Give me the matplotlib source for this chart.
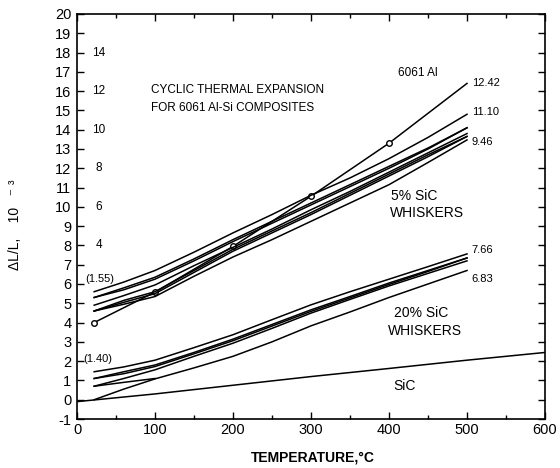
import matplotlib
matplotlib.use("Agg")
import matplotlib.pyplot as plt
import numpy as np

plt.rcParams["font.family"] = ["Liberation Sans", "DejaVu Sans"]
plt.rcParams["axes.unicode_minus"] = False

# 데이터
temp = [22, 60, 100, 150, 200, 250, 300, 350, 400, 450, 500]

# 6061 Al
al_temp = [22, 100, 200, 300, 400, 500]
al_dl = [4.0, 5.58, 7.95, 10.55, 13.3, 16.4]
al_marker_temp = [22, 100, 200, 300, 400]
al_marker_dl = [4.0, 5.58, 7.95, 10.55, 13.3]

# 5% SiC whiskers
sic5_a = [5.6, 6.1, 6.7, 7.65, 8.65, 9.6, 10.6, 11.5, 12.5, 13.6, 14.8]
sic5_b = [5.3, 5.7, 6.25, 7.2, 8.2, 9.15, 10.1, 11.05, 12.0, 13.0, 14.1]
sic5_b2 = [5.3, 5.8, 6.35, 7.3, 8.3, 9.25, 10.2, 11.15, 12.1, 13.05, 14.1]
sic5_c = [4.9, 5.4, 5.95, 6.95, 7.9, 8.85, 9.85, 10.8, 11.8, 12.8, 13.8]
sic5_d = [4.6, 5.05, 5.5, 6.6, 7.7, 8.65, 9.6, 10.6, 11.6, 12.6, 13.65]
sic5_d2 = [4.6, 5.15, 5.6, 6.7, 7.8, 8.75, 9.7, 10.7, 11.7, 12.7, 13.65]
sic5_e = [4.6, 4.95, 5.35, 6.4, 7.4, 8.3, 9.25, 10.2, 11.15, 12.3, 13.47]

# 20% SiC whiskers
sic20_f = [1.45, 1.7, 2.05, 2.7, 3.37, 4.15, 4.92, 5.6, 6.25, 6.9, 7.56]
sic20_g = [1.1, 1.45, 1.8, 2.45, 3.14, 3.9, 4.66, 5.35, 6.05, 6.7, 7.35]
sic20_g2 = [1.1, 1.35, 1.72, 2.38, 3.06, 3.82, 4.58, 5.28, 5.98, 6.65, 7.35]
sic20_h = [0.7, 1.1, 1.55, 2.25, 2.93, 3.7, 4.49, 5.2, 5.9, 6.55, 7.2]
sic20_i = [0.0, 0.55, 1.08, 1.65, 2.25, 3.0, 3.83, 4.55, 5.3, 6.0, 6.7]
sic20_j_temp = [22, 60, 100]
sic20_j = [0.7, 0.9, 1.1]

# SiC
sic_temp = [0, 100, 200, 300, 400, 500, 600]
sic_dl = [-0.1, 0.3, 0.75, 1.2, 1.62, 2.05, 2.45]

# 오른쪽 끝 라벨
end_labels = ["12.42", "11.10", "9.46", "7.66", "6.83"]
end_label_y = [16.41, 14.94, 13.38, 7.74, 6.25]

# 왼쪽 안쪽 보조 눈금 라벨
inner_labels = ["14", "12", "10", "8", "6", "4"]
inner_label_y = [18, 16, 14, 12, 10, 8]

fig = plt.figure(figsize=(5.6, 4.68), dpi=100)
ax = fig.add_axes([0.1375, 0.1047, 0.8357, 0.8654])

lw = 1.1
ax.plot(al_temp, al_dl, color="k", lw=lw)
ax.plot(al_marker_temp, al_marker_dl, "o", mfc="white", mec="k", ms=4, mew=1.0)

for ys in [sic5_a, sic5_b, sic5_b2, sic5_c, sic5_d, sic5_d2, sic5_e]:
    ax.plot(temp, ys, color="k", lw=lw)

for ys in [sic20_f, sic20_g, sic20_g2, sic20_h, sic20_i]:
    ax.plot(temp, ys, color="k", lw=lw)
ax.plot(sic20_j_temp, sic20_j, color="k", lw=lw)

ax.plot(sic_temp, sic_dl, color="k", lw=lw)

ax.set_xlim(0, 600)
ax.set_ylim(-1, 20)
ax.set_xticks(np.arange(0, 601, 100))
ax.set_xticks(np.arange(0, 601, 50), minor=True)
ax.set_yticks(np.arange(-1, 21, 1))
ax.tick_params(which="both", direction="in", top=True, right=True, width=1.0)
ax.tick_params(which="major", length=5, labelsize=10.5)
ax.tick_params(which="minor", length=3)
ax.tick_params(axis="x", pad=3)
ax.tick_params(axis="y", pad=4)
for s in ax.spines.values():
    s.set_linewidth(1.2)

# 텍스트
ax.text(95, 16.05, "CYCLIC THERMAL EXPANSION", fontsize=8.5, va="center")
ax.text(95, 15.11, "FOR 6061 Al-Si COMPOSITES", fontsize=8.5, va="center")
ax.text(411, 16.94, "6061 Al", fontsize=8.5, va="center")
for lab, y in zip(end_labels, end_label_y):
    ax.text(506, y, lab, fontsize=8, va="center")
for lab, y in zip(inner_labels, inner_label_y):
    ax.text(28, y, lab, fontsize=8.5, va="center", ha="center")
ax.text(11, 6.24, "(1.55)", fontsize=8, va="center")
ax.text(8, 2.1, "(1.40)", fontsize=8, va="center")
ax.text(432, 10.57, "5% SiC", fontsize=10, va="center", ha="center")
ax.text(449, 9.69, "WHISKERS", fontsize=10, va="center", ha="center")
ax.text(441, 4.49, "20% SiC", fontsize=10, va="center", ha="center")
ax.text(446, 3.54, "WHISKERS", fontsize=10, va="center", ha="center")
ax.text(420, 0.73, "SiC", fontsize=10, va="center", ha="center")

fig.text(313 / 560, 1 - 458 / 468, "TEMPERATURE,°C", fontsize=10,
         fontweight="bold", ha="center", va="center")
fig.text(15 / 560, 1 - 225 / 468, "ΔL/L,    10   ⁻ ³", fontsize=10,
         rotation=90, ha="center", va="center")

fig.savefig("out.png", dpi=100)
